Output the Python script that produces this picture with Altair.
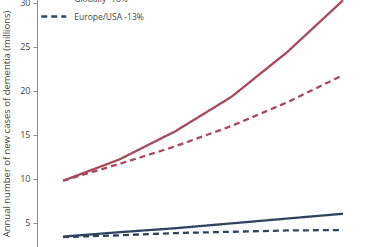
import altair as alt
import pandas as pd

years = [2015, 2020, 2025, 2030, 2035, 2040]
global_base = [9.8, 12.2, 15.4, 19.3, 24.4, 30.3]
global_red = [9.8, 11.7, 13.7, 16.0, 18.7, 21.8]
eu_base = [3.45, 3.95, 4.4, 4.95, 5.5, 6.05]
eu_red = [3.4, 3.6, 3.85, 4.0, 4.15, 4.2]

series_names = ["Globally baseline", "Globally -18%", "Europe/USA baseline", "Europe/USA -13%"]
series_values = [global_base, global_red, eu_base, eu_red]

rows = []
for name, vals in zip(series_names, series_values):
    for yr, v in zip(years, vals):
        rows.append({"year": yr, "value": v, "series": name})
df = pd.DataFrame(rows)

RED = "#a9495b"
BLUE = "#2e4561"

chart = alt.Chart(df).mark_line(strokeWidth=2.3).encode(
    x=alt.X("year:Q", scale=alt.Scale(domain=[2012.68, 2042.41], nice=False, zero=False), axis=None),
    y=alt.Y(
        "value:Q",
        scale=alt.Scale(domain=[2.27, 30.34], nice=False, zero=False),
        axis=alt.Axis(
            values=[5, 10, 15, 20, 25, 30],
            title="Annual number of new cases of dementia (millions)",
            grid=False,
            domainColor="#8a8a8a",
            tickColor="#8a8a8a",
            tickSize=4,
            labelPadding=3,
            labelFont="Open Sans",
            labelFontSize=9,
            labelColor="#444444",
            titleFont="Open Sans",
            titleFontSize=9.5,
            titleFontWeight="normal",
            titleColor="#444444",
            titlePadding=8,
        ),
    ),
    color=alt.Color(
        "series:N",
        scale=alt.Scale(domain=series_names, range=[RED, RED, BLUE, BLUE]),
        legend=alt.Legend(
            values=["Globally -18%", "Europe/USA -13%"],
            title=None,
            orient="none",
            legendX=9.25,
            legendY=-9,
            symbolType="M-2,0H2",
            symbolSize=156,
            symbolStrokeWidth=2.5,
            labelFont="Open Sans",
            labelFontSize=8.5,
            labelColor="#444444",
            labelOffset=13,
            rowPadding=5,
            padding=0,
        ),
    ),
    strokeDash=alt.StrokeDash(
        "series:N",
        scale=alt.Scale(domain=series_names, range=[[1, 0], [6, 4], [1, 0], [6, 4]]),
        legend=None,
    ),
).properties(
    width=333,
    height=247,
    autosize=alt.AutoSizeParams(type="none"),
    padding={"left": 37, "top": 0, "right": 0, "bottom": 0},
).configure_view(stroke=None)

chart.save("out.html", embed_options={"renderer": "svg", "actions": False})
